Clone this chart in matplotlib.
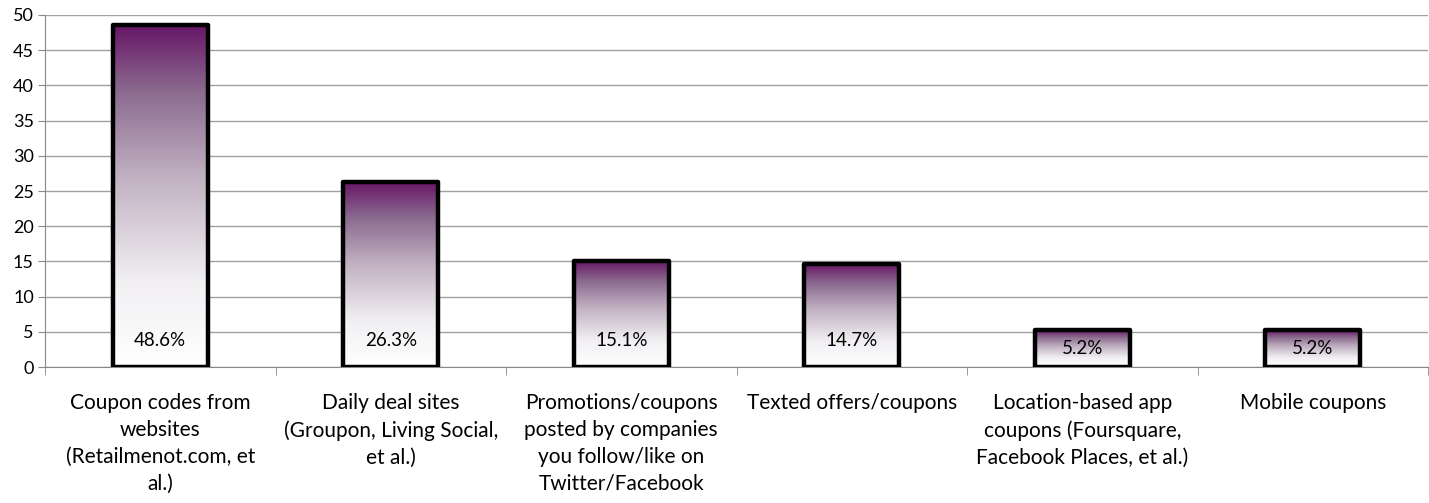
import numpy as np
import matplotlib
matplotlib.use("Agg")
import matplotlib.pyplot as plt
from matplotlib.colors import LinearSegmentedColormap
from matplotlib.patches import Rectangle

categories = [
    "Coupon codes from\nwebsites\n(Retailmenot.com, et\nal.)",
    "Daily deal sites\n(Groupon, Living Social,\net al.)",
    "Promotions/coupons\nposted by companies\nyou follow/like on\nTwitter/Facebook",
    "Texted offers/coupons",
    "Location-based app\ncoupons (Foursquare,\nFacebook Places, et al.)",
    "Mobile coupons",
]
values = [48.6, 26.3, 15.1, 14.7, 5.2, 5.2]
yticks = [0, 5, 10, 15, 20, 25, 30, 35, 40, 45, 50]

plt.rcParams['font.family'] = ['Lato', 'DejaVu Sans']

cmap = LinearSegmentedColormap.from_list(
    "bar", [(0.0, "#ffffff"), (0.25, "#f1eff2"), (0.55, "#c2b2c3"),
            (0.8, "#8c6c90"), (1.0, "#661566")])
grad = np.linspace(0, 1, 256).reshape(-1, 1)

fig = plt.figure(figsize=(14.29, 5.03), dpi=100)
ax = fig.add_axes([45 / 1429, 1 - 367 / 503, 1383 / 1429, 352 / 503])

x = np.arange(len(values))
width = 0.41
for xi, v in zip(x, values):
    x0 = xi - width / 2
    ax.imshow(grad, extent=(x0, x0 + width, 0, v), origin="lower",
              cmap=cmap, aspect="auto", zorder=2)
    ax.add_patch(Rectangle((x0, 0), width, v, fill=False, edgecolor="black",
                           linewidth=3.2, joinstyle="round", zorder=3))
    ax.text(xi, min(v / 2, 3.8), f"{v}%", ha="center", va="center",
            fontsize=13.5, color="black", zorder=4)

ax.set_xlim(-0.5, len(values) - 0.5)
ax.set_ylim(0, 50)
ax.set_yticks(yticks)
ax.tick_params(axis="y", labelsize=13, length=5, color="#888888", pad=3)
ax.set_xticks(x)
ax.set_xticklabels(categories, fontsize=15, linespacing=1.42)
ax.tick_params(axis="x", length=0, pad=19)
ax.set_xticks(np.arange(len(values) + 1) - 0.5, minor=True)
ax.tick_params(axis="x", which="minor", length=6, color="#888888")
ax.yaxis.grid(True, color="#a0a0a0", linewidth=1)
ax.set_axisbelow(True)
for s in ["top", "right"]:
    ax.spines[s].set_visible(False)
for s in ["left", "bottom"]:
    ax.spines[s].set_color("#888888")

fig.savefig("out.png", dpi=100)
